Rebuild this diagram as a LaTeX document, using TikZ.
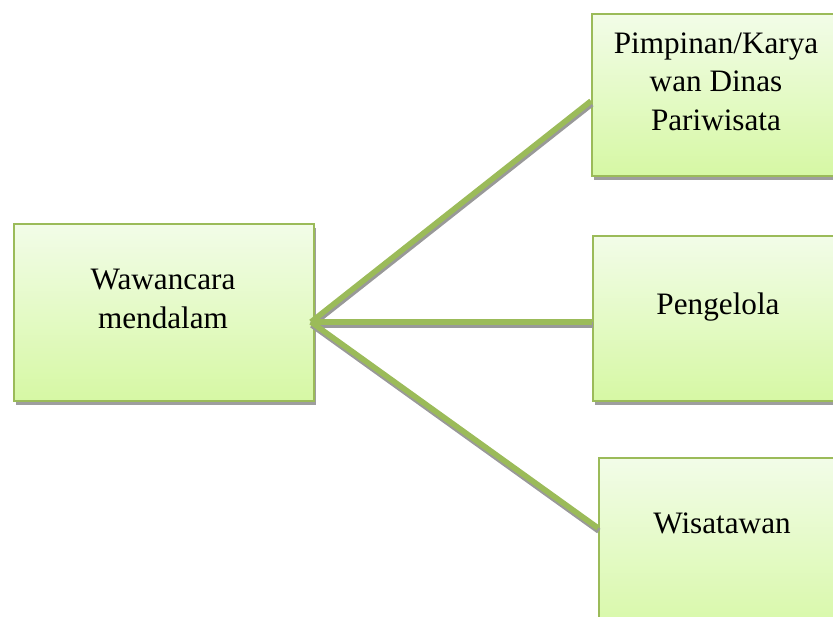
\documentclass[tikz,border=0pt]{standalone}
\usepackage{fontspec}
\setmainfont{Liberation Serif}
\usetikzlibrary{shadows}
\definecolor{olivegreen}{HTML}{9BBB59}
\definecolor{boxtop}{HTML}{F2FCE8}
\definecolor{boxbottom}{HTML}{D6F8A4}
\begin{document}
\begin{tikzpicture}[x=0.5pt,y=-0.5pt,
    kotak/.style={draw=olivegreen,line width=1pt,top color=boxtop,bottom color=boxbottom,
        anchor=north west,inner sep=0pt,
        drop shadow={shadow xshift=0.8pt,shadow yshift=-2pt,fill=black!38,opacity=1}},
    teks/.style={align=center,font=\fontsize{15.6}{19.3}\selectfont,inner sep=0pt},
    garis/.style={draw=olivegreen,line width=2.8pt,
        preaction={draw=black!40,line width=2.8pt,transform canvas={xshift=0.4pt,yshift=-1.5pt}}}]
    \useasboundingbox (0,0) rectangle (833,616);
    \node[kotak,minimum width=150pt,minimum height=88.5pt] (wawancara) at (13,223) {};
    \node[kotak,minimum width=127pt,minimum height=81pt] (pimpinan) at (591,13) {};
    \node[kotak,minimum width=126.5pt,minimum height=82.5pt] (pengelola) at (592,235) {};
    \node[kotak,minimum width=123.5pt,minimum height=91.5pt] (wisatawan) at (598,457) {};
    \node[teks] (t1) at (163,299) {Wawancara\\mendalam};
    \node[teks] (t2) at (716,81.5) {Pimpinan/Karya\\wan Dinas\\Pariwisata};
    \node[teks] (t3) at (718,307) {Pengelola};
    \node[teks] (t4) at (722,523) {Wisatawan};
    \coordinate (hub) at (311,322);
    \coordinate (e1) at (591,101);
    \coordinate (e2) at (592,322);
    \coordinate (e3) at (598,528);
    \draw[garis] (hub)--(e1);
    \draw[garis] (hub)--(e2);
    \draw[garis] (hub)--(e3);
\end{tikzpicture}
\end{document}
